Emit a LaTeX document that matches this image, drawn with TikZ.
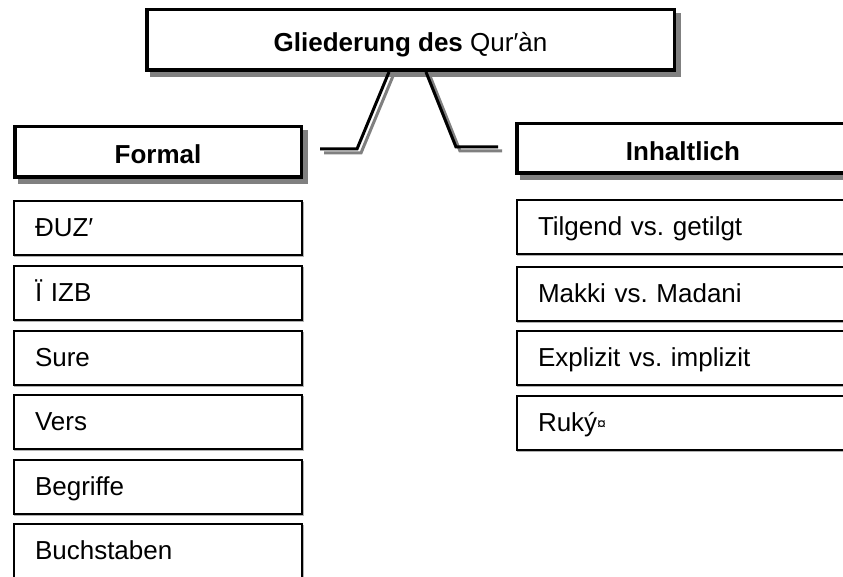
\documentclass[tikz,border=0pt]{standalone}
\usepackage{fontspec}
\setmainfont{Liberation Sans}
\usetikzlibrary{calc}
\frenchspacing
\definecolor{shadowgray}{gray}{0.5}
\definecolor{lightshadow}{gray}{0.7}
% invisible rules giving every line the same height and depth
\newcommand{\linestrut}{\rule[-7pt]{0pt}{31pt}}
\newcommand{\headstrut}{\rule[-6pt]{0pt}{36pt}}
\tikzset{
  heading/.style={draw=black, fill=white, line width=3.5pt, rectangle, inner sep=0pt,
    font=\fontsize{26}{30}\selectfont\bfseries,
    execute at begin node=\headstrut,
    preaction={draw=shadowgray, fill=shadowgray, line width=3.5pt,
      transform canvas={shift={(5pt,-5pt)}}}},
  itembox/.style={draw=black, fill=white, line width=2pt, rectangle, inner ysep=0pt,
    inner xsep=21pt, minimum height=54pt, align=left,
    font=\fontsize{26}{30}\selectfont,
    execute at begin node=\linestrut,
    preaction={draw=lightshadow, line width=1.5pt,
      transform canvas={shift={(1pt,-1.5pt)}}}},
  leftitem/.style={itembox, text width=246pt},
  rightitem/.style={itembox, text width=291pt},
  conn/.style={draw=black, line width=3pt,
    preaction={draw=shadowgray, line width=3pt,
      transform canvas={shift={(4pt,-4pt)}}}}
}
\begin{document}
\begin{tikzpicture}[x=1pt, y=-1pt]
\clip (0,0) rectangle (843,577);
\fill[white] (0,0) rectangle (843,577);

% headings
\node[heading, minimum width=527.5pt, minimum height=60.5pt] (title) at (410.5,40)
  {Gliederung des \mdseries Qur′àn};
\node[heading, minimum width=286.5pt, minimum height=50.5pt] (formal) at (158,152) {Formal};
\node[heading, minimum width=332.5pt, minimum height=49.5pt] (inhalt) at (683,148.5) {Inhaltlich};

% connectors from the title down to the two headings
\draw[conn] ($(formal.east)+(17,-3)$) -- ++(37,0) -- ($(title.south)+(-21.5,0)$);
\draw[conn] ($(title.south)+(15.5,0)$) -- ($(inhalt.west)+(-59,-1.5)$) -- ($(inhalt.west)+(-17,-1.5)$);

% formal subdivisions
\node[leftitem] (f1) at (158,228) {ĐUZ′};
\node[leftitem] (f2) at (158,293) {Ï IZB};
\node[leftitem] (f3) at (158,358) {Sure};
\node[leftitem] (f4) at (158,422) {Vers};
\node[leftitem] (f5) at (158,487) {Begriffe};
\node[leftitem] (f6) at (158,551) {Buchstaben};

% content-related subdivisions
\node[rightitem] (i1) at (683.5,227) {Tilgend vs. getilgt};
\node[rightitem] (i2) at (683.5,294) {Makki vs. Madani};
\node[rightitem] (i3) at (683.5,358) {Explizit vs. implizit};
\node[rightitem] (i4) at (683.5,423) {Ruký\raisebox{2pt}{\fontsize{16}{16}\selectfont ¤}};
\end{tikzpicture}
\end{document}
